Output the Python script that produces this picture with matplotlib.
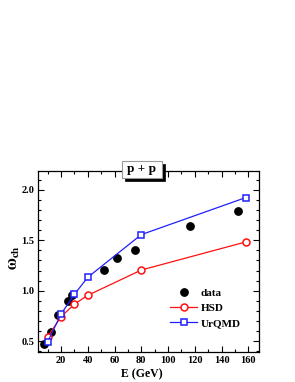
import matplotlib
matplotlib.use("Agg")
import matplotlib.pyplot as plt
from matplotlib.ticker import MultipleLocator, FormatStrFormatter
from matplotlib.patches import Rectangle

plt.rcParams['font.family'] = ['Liberation Serif', 'DejaVu Serif']
plt.rcParams['font.weight'] = 'bold'
plt.rcParams['mathtext.fontset'] = 'stix'

data_E = [7.5, 12.3, 17.5, 25.3, 28.5, 52.0, 62.2, 75.5, 116.2, 152.3]
data_w = [0.467, 0.59, 0.76, 0.90, 0.96, 1.205, 1.32, 1.40, 1.645, 1.794]

hsd_E = [10, 20, 30, 40, 80, 158]
hsd_w = [0.543, 0.741, 0.867, 0.954, 1.205, 1.483]

urqmd_E = [10, 20, 30, 40, 80, 158]
urqmd_w = [0.493, 0.768, 0.964, 1.133, 1.556, 1.923]

W, H = 295, 382
fig = plt.figure(figsize=(W / 100, H / 100), dpi=100)
ax = fig.add_axes([38.3 / W, 1 - 351.7 / H, (259 - 38.3) / W, (351.7 - 170.7) / H])

ax.plot(data_E, data_w, 'o', color='black', ms=5.3, label='data', zorder=3)
ax.plot(hsd_E, hsd_w, '-o', color='#ff1010', lw=0.9, ms=5, mfc='white',
        mec='#ff1010', mew=1.1, label='HSD', zorder=4)
ax.plot(urqmd_E, urqmd_w, '-s', color='#2020ff', lw=0.9, ms=4.5, mfc='white',
        mec='#2020ff', mew=1.1, label='UrQMD', zorder=5)

ax.set_xlim(3, 168)
ax.set_ylim(0.395, 2.19)
ax.xaxis.set_major_locator(MultipleLocator(20))
ax.xaxis.set_minor_locator(MultipleLocator(10))
ax.yaxis.set_major_locator(MultipleLocator(0.5))
ax.yaxis.set_minor_locator(MultipleLocator(0.1))
ax.yaxis.set_major_formatter(FormatStrFormatter('%.1f'))
ax.tick_params(which='both', direction='in', top=True, right=True,
               labelsize=7.5, width=0.8)
ax.tick_params(which='major', length=4, pad=3)
ax.tick_params(which='minor', length=2)
for s in ax.spines.values():
    s.set_linewidth(0.9)
for lab in ax.get_xticklabels() + ax.get_yticklabels():
    lab.set_fontweight('bold')

leg = ax.legend(loc='upper left', bbox_to_anchor=(166 / W, 1 - 284 / H),
                bbox_transform=fig.transFigure, frameon=False,
                fontsize=8, handlelength=2.4, handletextpad=0.3,
                labelspacing=0.45, borderaxespad=0)
for t in leg.get_texts():
    t.set_fontweight('bold')

fig.text(141.6 / W, 1 - 374 / H, 'E (GeV)', ha='center', va='center',
         fontsize=8.5, fontweight='bold')
fig.text(14 / W, 1 - 258 / H, r'$\mathbf{\omega_{ch}}$', ha='center', va='center',
         rotation=90, fontsize=11.5)

# title box with shadow
x0, x1, y0, y1 = 121.7, 161.7, 161.0, 177.7
fig.patches.append(Rectangle(((x0 + 3) / W, 1 - (y1 + 3) / H), (x1 - x0) / W,
                             (y1 - y0) / H, transform=fig.transFigure,
                             fc='black', ec='black', lw=0.5, zorder=10))
fig.patches.append(Rectangle((x0 / W, 1 - y1 / H), (x1 - x0) / W,
                             (y1 - y0) / H, transform=fig.transFigure,
                             fc='white', ec='#999999', lw=0.8, zorder=11))
fig.text((x0 + x1) / 2 / W, 1 - (y0 + y1) / 2 / H, 'p + p', ha='center',
         va='center', fontsize=9.5, fontweight='bold', color='black', zorder=12)

fig.savefig('out.png', dpi=100)
